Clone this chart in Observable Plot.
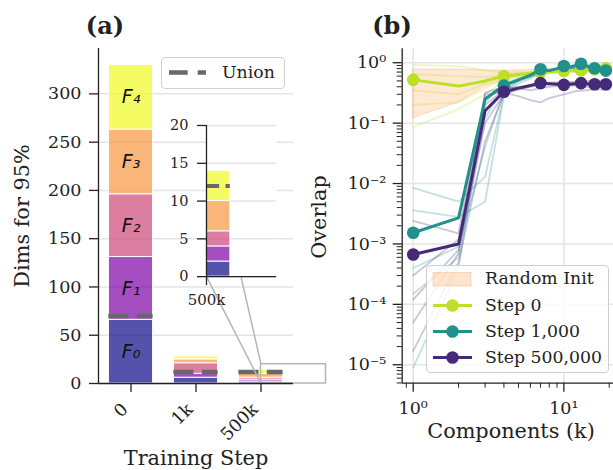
<!DOCTYPE html>
<html><head><meta charset="utf-8">
<script src="https://cdn.jsdelivr.net/npm/d3@7"></script>
<script src="https://cdn.jsdelivr.net/npm/@observablehq/plot@0.6"></script>
<style>
body{margin:0;background:#fff;}
#fig{position:relative;width:613px;height:470px;overflow:hidden;font-family:"DejaVu Serif",serif;color:#222;background:#fff}
#fig > *{position:absolute}
.lbl{white-space:nowrap;transform:translate(-50%,-50%);line-height:1}
.leg{box-sizing:border-box;border:1.3px solid #cfcfcf;border-radius:4px;background:rgba(255,255,255,0.82)}
.leg > *{position:absolute}
.leg span{font-size:17.3px;white-space:nowrap;line-height:1;transform:translateY(-50%)}
</style></head>
<body><div id="fig"></div>
<script>
// ---------- Panel (a) data ----------
const steps = ["0", "1k", "500k"];
const factorLabels = ["F₀", "F₁", "F₂", "F₃", "F₄"];
const dims_step0 = [66, 65, 65, 67, 67];
const dims_step1k = [6, 4, 11, 4, 3];
const dims_step500k = [2, 2, 2, 4, 4];
const unionDims = [70, 12, 12];
const yTicksA = [0, 50, 100, 150, 200, 250, 300];
const insetTicks = [0, 5, 10, 15, 20];
const insetXDomain = [2, 3];
const insetYDomain = [0, 20];
// inset placement, expressed in main-axes data coordinates
const insetPlaceX = [1.16, 2.24];
const insetPlaceY = [111, 267.6];

// ---------- Panel (b) data ----------
const K = [1,2,3,4,5,6,7,8,9,10,11,12,13,14,15,16,17,18,19,20];
const step0 = [0.52,0.41,0.50,0.60,0.64,0.67,0.70,0.71,0.72,0.73,0.74,0.74,0.75,0.76,0.77,0.78,0.79,0.80,0.81,0.82];
const step1k = [0.00153,0.0027,0.25,0.42,0.52,0.62,0.78,0.74,0.80,0.88,0.85,0.90,0.96,0.90,0.85,0.81,0.78,0.76,0.74,0.72];
const step500k = [0.00067,0.001,0.16,0.33,0.38,0.42,0.46,0.45,0.44,0.43,0.44,0.45,0.46,0.45,0.44,0.44,0.44,0.44,0.44,0.44];
const Kf = [1,2,3,4,5,6,7,8,10,12,14,16,18,20];
const randLo = [0.12,0.22,0.40,0.52,0.60,0.64,0.66,0.68,0.70,0.71,0.72,0.73,0.74,0.75];
const randHi = [0.77,0.77,0.75,0.74,0.75,0.76,0.78,0.79,0.80,0.81,0.82,0.83,0.83,0.84];
const faintStep0 = [
  [0.92,0.88,0.75,0.68,0.70,0.72,0.75,0.76,0.78,0.80,0.80,0.82,0.83,0.84],
  [0.65,0.60,0.58,0.62,0.66,0.70,0.72,0.72,0.74,0.76,0.76,0.78,0.80,0.80],
  [0.35,0.30,0.45,0.58,0.62,0.66,0.68,0.70,0.72,0.72,0.74,0.75,0.76,0.78],
  [0.20,0.22,0.38,0.55,0.60,0.64,0.66,0.68,0.70,0.70,0.72,0.73,0.74,0.75],
  [0.086,0.17,0.30,0.50,0.58,0.62,0.65,0.67,0.68,0.70,0.70,0.72,0.72,0.74]
];
const faintStep1k = [
  [0.0085,0.005,0.013,0.30,0.50,0.60,0.68,0.72,0.78,0.80,0.82,0.80,0.78,0.76],
  [0.0036,0.0028,0.005,0.28,0.45,0.55,0.65,0.70,0.75,0.78,0.80,0.82,0.80,0.78],
  [0.0004,0.0009,0.04,0.35,0.50,0.58,0.66,0.70,0.76,0.80,0.80,0.78,0.76,0.75],
  [0.00015,0.0006,0.12,0.40,0.52,0.60,0.68,0.72,0.80,0.82,0.84,0.80,0.78,0.76],
  [0.000009,0.0004,0.22,0.45,0.55,0.62,0.70,0.74,0.82,0.85,0.82,0.80,0.78,0.77]
];
const faintStep500k = [
  [0.0024,0.0015,0.30,0.32,0.28,0.24,0.22,0.26,0.30,0.34,0.35,0.36,0.36,0.36],
  [0.0003,0.0012,0.20,0.35,0.40,0.42,0.44,0.45,0.46,0.46,0.46,0.47,0.46,0.46],
  [0.00012,0.0008,0.10,0.30,0.36,0.40,0.42,0.44,0.44,0.45,0.45,0.45,0.44,0.44],
  [0.000017,0.0005,0.05,0.30,0.38,0.42,0.45,0.47,0.48,0.48,0.50,0.50,0.50,0.50],
  [0.00005,0.0007,0.32,0.40,0.38,0.35,0.38,0.40,0.42,0.42,0.40,0.40,0.40,0.40]
];
const yMajorB = [1e-5, 1e-4, 1e-3, 1e-2, 1e-1, 1];
const xMajorB = [1, 10];
const seriesNames = ["Step 0", "Step 1,000", "Step 500,000"];
const seriesColors = ["#bddf26", "#21918c", "#462a7a"];

// ---------- helpers ----------
const fig = document.getElementById("fig");
const FONT = "DejaVu Serif";
const segColors = [0, 0.25, 0.5, 0.75, 1].map(t => d3.interpolatePlasma(t));
const barWidth = 0.68;
const gridColor = "#e4e4e4";
const ink = "#222";

const dimsByStep = [dims_step0, dims_step1k, dims_step500k];
const segs = [];
dimsByStep.forEach((vals, i) => {
  let acc = 0;
  vals.forEach((v, j) => { segs.push({i, f: j, y1: acc, y2: acc + v}); acc += v; });
});
const unionRows = unionDims.map((v, i) => ({i, v}));
const zoomBox = {x1: insetXDomain[0], x2: insetXDomain[1], y1: insetYDomain[0], y2: insetYDomain[1]};
const connectors = [
  {x1: insetXDomain[0], y1: insetYDomain[1], x2: insetPlaceX[0], y2: insetPlaceY[1]},
  {x1: insetXDomain[0], y1: insetYDomain[0], x2: insetPlaceX[0], y2: insetPlaceY[0]}
];

// ---------- Plot (a) ----------
const plotA = Plot.plot({
  width: 340, height: 470,
  marginLeft: 98, marginRight: 47, marginTop: 48, marginBottom: 87,
  x: {domain: [-0.5, 2.5]},
  y: {domain: [0, 347]},
  style: {fontFamily: FONT, color: ink, background: "transparent", overflow: "visible"},
  marks: [
    Plot.gridY(yTicksA, {stroke: gridColor, strokeOpacity: 1, strokeWidth: 1.5}),
    Plot.rectY(segs, {x1: d => d.i - barWidth / 2, x2: d => d.i + barWidth / 2, y1: "y1", y2: "y2",
      fill: d => segColors[d.f], fillOpacity: 0.7, stroke: "white", strokeWidth: 1}),
    Plot.ruleY(unionRows, {x1: d => d.i - barWidth / 2, x2: d => d.i + barWidth / 2, y: "v",
      stroke: "#686868", strokeWidth: 4.5, strokeDasharray: "20,8.4"}),
    Plot.text(segs.filter(d => d.i === 0), {x: "i", y: d => (d.y1 + d.y2) / 2, text: d => factorLabels[d.f],
      fontFamily: "DejaVu Sans", fontStyle: "italic", fontSize: 19, fill: "#111"}),
    Plot.rect([zoomBox], {x1: "x1", x2: "x2", y1: "y1", y2: "y2", fill: "none", stroke: "#b5b5b5", strokeWidth: 1.5}),
    Plot.link(connectors, {x1: "x1", y1: "y1", x2: "x2", y2: "y2", stroke: "#b5b5b5", strokeWidth: 1.5}),
    Plot.ruleX([-0.5], {strokeWidth: 1.3}),
    Plot.ruleY([0], {strokeWidth: 1.3}),
    Plot.axisY(yTicksA, {tickSize: 9, tickPadding: 8, fontSize: 17.5, label: null, strokeWidth: 1.3}),
    Plot.axisX([0, 1, 2], {tickSize: 9, tickFormat: () => "", label: null, strokeWidth: 1.3}),
    Plot.text([0, 1, 2], {x: d => d, frameAnchor: "bottom", text: d => steps[d], rotate: -45,
      textAnchor: "end", lineAnchor: "middle", dx: -6, dy: 23, fontSize: 17.5})
  ]
});
plotA.style.left = "0px"; plotA.style.top = "0px";
fig.appendChild(plotA);

// ---------- inset ----------
const sx = plotA.scale("x"), sy = plotA.scale("y");
const iL = sx.apply(insetPlaceX[0]), iR = sx.apply(insetPlaceX[1]);
const iT = sy.apply(insetPlaceY[1]), iB = sy.apply(insetPlaceY[0]);
const im = {l: 50, r: 6, t: 10, b: 40};
const inset = Plot.plot({
  width: (iR - iL) + im.l + im.r, height: (iB - iT) + im.t + im.b,
  marginLeft: im.l, marginRight: im.r, marginTop: im.t, marginBottom: im.b,
  x: {domain: insetXDomain},
  y: {domain: insetYDomain},
  style: {fontFamily: FONT, color: ink, background: "transparent", overflow: "visible"},
  marks: [
    Plot.frame({fill: "white", stroke: "none"}),
    Plot.gridY(insetTicks, {stroke: gridColor, strokeOpacity: 1, strokeWidth: 1.5}),
    Plot.rectY(segs.filter(d => d.i === 2), {x1: d => insetXDomain[0] - barWidth / 2, x2: d => insetXDomain[0] + barWidth / 2,
      y1: "y1", y2: "y2", fill: d => segColors[d.f], fillOpacity: 0.7, stroke: "white", strokeWidth: 1, clip: true}),
    Plot.ruleY(unionRows.filter(d => d.i === 2), {x1: d => insetXDomain[0] - barWidth / 2, x2: d => insetXDomain[0] + barWidth / 2,
      y: "v", stroke: "#686868", strokeWidth: 4, strokeDasharray: "15.3,6.4", clip: true}),
    Plot.ruleX([insetXDomain[0]], {strokeWidth: 1.3}),
    Plot.ruleY([0], {strokeWidth: 1.3}),
    Plot.axisY(insetTicks, {tickSize: 9, tickPadding: 9, fontSize: 14.5, label: null, strokeWidth: 1.3}),
    Plot.axisX([insetXDomain[0]], {tickSize: 9, tickPadding: 9, fontSize: 15, tickFormat: () => steps[2], label: null, strokeWidth: 1.3})
  ]
});
inset.style.left = (iL - im.l) + "px"; inset.style.top = (iT - im.t) + "px";
fig.appendChild(inset);

// ---------- Plot (b) ----------
const supMap = {"-": "⁻", "0": "⁰", "1": "¹", "2": "²", "3": "³", "4": "⁴", "5": "⁵", "6": "⁶", "7": "⁷", "8": "⁸", "9": "⁹"};
const sup = d => "10" + String(Math.round(Math.log10(d))).split("").map(c => supMap[c]).join("");
const yDomB = [4.95e-6, 1.7], xDomB = [0.845, 25];
const yMinorB = [];
for (let e = -6; e <= 0; e++) for (let m = 2; m <= 9; m++) { const v = m * Math.pow(10, e); if (v > yDomB[0] && v < yDomB[1]) yMinorB.push(v); }
const xMinorB = [];
for (let e = -1; e <= 1; e++) for (let m = 2; m <= 9; m++) { const v = m * Math.pow(10, e); if (v > xDomB[0] && v < xDomB[1]) xMinorB.push(v); }

const randRows = Kf.map((k, i) => ({k, lo: randLo[i], hi: randHi[i]}));
const faintSets = [faintStep0, faintStep1k, faintStep500k];
const mainSets = [step0, step1k, step500k];
const faintMarks = faintSets.map((set, s) => {
  const rows = [];
  set.forEach((vals, r) => vals.forEach((v, i) => rows.push({k: Kf[i], v, id: r})));
  return Plot.line(rows, {x: "k", y: "v", z: "id", stroke: seriesColors[s], strokeOpacity: 0.27, strokeWidth: 1.8});
});
const mainMarks = mainSets.flatMap((vals, s) => {
  const rows = vals.map((v, i) => ({k: K[i], v}));
  return [
    Plot.line(rows, {x: "k", y: "v", stroke: seriesColors[s], strokeWidth: 3}),
    Plot.dot(rows.filter((d, i) => i % 3 === 0), {x: "k", y: "v", r: 6.3, fill: seriesColors[s]})
  ];
});

const plotB = Plot.plot({
  width: 330, height: 470,
  marginLeft: 101.7, marginRight: 6.7, marginTop: 48.3, marginBottom: 87.3,
  x: {type: "log", domain: xDomB},
  y: {type: "log", domain: yDomB},
  style: {fontFamily: FONT, color: ink, background: "transparent", overflow: "visible"},
  marks: [
    Plot.gridY(yMajorB, {stroke: gridColor, strokeOpacity: 1, strokeWidth: 1.5}),
    Plot.gridX(xMajorB, {stroke: gridColor, strokeOpacity: 1, strokeWidth: 1.5}),
    Plot.areaY(randRows, {x: "k", y1: "lo", y2: "hi", fill: "#ff7f0e", fillOpacity: 0.18, stroke: "#ff7f0e", strokeOpacity: 0.22}),
    ...faintMarks,
    ...mainMarks,
    Plot.ruleX([xDomB[0]], {strokeWidth: 1.3}),
    Plot.ruleY([yDomB[0]], {strokeWidth: 1.3}),
    Plot.axisY(yMajorB, {tickSize: 9, tickPadding: 7, fontSize: 17.5, tickFormat: sup, label: null, strokeWidth: 1.3}),
    Plot.axisY(yMinorB, {tickSize: 5, tickFormat: () => "", label: null, strokeWidth: 1}),
    Plot.axisX(xMajorB, {tickSize: 9, tickPadding: 9, fontSize: 17.5, tickFormat: sup, label: null, strokeWidth: 1.3}),
    Plot.axisX(xMinorB, {tickSize: 5, tickFormat: () => "", label: null, strokeWidth: 1})
  ]
});
plotB.style.left = "300px"; plotB.style.top = "0px";
fig.appendChild(plotB);

// ---------- titles & axis labels ----------
function label(text, x, y, size, opts = {}) {
  const d = document.createElement("div");
  d.className = "lbl";
  d.textContent = text;
  d.style.left = x + "px"; d.style.top = y + "px"; d.style.fontSize = size + "px";
  if (opts.bold) d.style.fontWeight = "bold";
  if (opts.rotate) d.style.transform = "translate(-50%,-50%) rotate(-90deg)";
  fig.appendChild(d);
}
label("(a)", 105, 26, 24, {bold: true});
label("(b)", 392, 26, 24, {bold: true});
label("Dims for 95%", 22, 216, 20.8, {rotate: true});
label("Training Step", 196, 458, 20.8);
label("Overlap", 319, 217, 20.8, {rotate: true});
label("Components (k)", 511, 431, 20.8);

// ---------- legends ----------
const NS = "http://www.w3.org/2000/svg";
function svgEl(tag, attrs) { const e = document.createElementNS(NS, tag); for (const k in attrs) e.setAttribute(k, attrs[k]); return e; }
// legend (a)
const legA = document.createElement("div");
legA.className = "leg";
Object.assign(legA.style, {left: "161px", top: "57px", width: "124px", height: "32px"});
const sA = svgEl("svg", {width: 50, height: 30});
Object.assign(sA.style, {left: "0px", top: "0px"});
sA.appendChild(svgEl("line", {x1: 7, x2: 44, y1: 14.5, y2: 14.5, stroke: "#686868", "stroke-width": 4.5, "stroke-dasharray": "18.7,10"}));
legA.appendChild(sA);
const tA = document.createElement("span"); tA.textContent = "Union"; tA.style.left = "60px"; tA.style.top = "15px";
legA.appendChild(tA);
fig.appendChild(legA);

// legend (b)
const legB = document.createElement("div");
legB.className = "leg";
Object.assign(legB.style, {left: "426px", top: "265px", width: "183px", height: "108px"});
const sB = svgEl("svg", {width: 60, height: 106});
Object.assign(sB.style, {left: "0px", top: "0px"});
sB.appendChild(svgEl("rect", {x: 6, y: 6.5, width: 38, height: 13.5, fill: "#ff7f0e", "fill-opacity": 0.2, stroke: "#ff7f0e", "stroke-opacity": 0.25}));
const rowsY = [39.5, 65.5, 91.5];
seriesColors.forEach((c, i) => {
  sB.appendChild(svgEl("line", {x1: 6, x2: 45, y1: rowsY[i], y2: rowsY[i], stroke: c, "stroke-width": 3}));
  sB.appendChild(svgEl("circle", {cx: 25.5, cy: rowsY[i], r: 6.3, fill: c}));
});
legB.appendChild(sB);
["Random Init", ...seriesNames].forEach((t, i) => {
  const s = document.createElement("span");
  s.textContent = t; s.style.left = "58px"; s.style.top = ([13, ...rowsY][i]) + "px";
  legB.appendChild(s);
});
fig.appendChild(legB);
</script>
</body></html>
